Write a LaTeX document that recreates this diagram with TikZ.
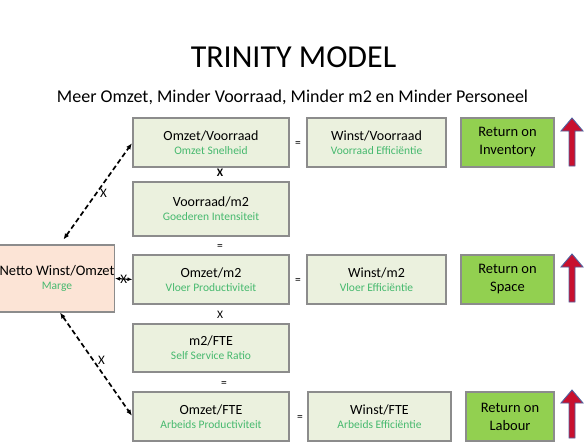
\documentclass[tikz,border=0pt]{standalone}
\usepackage{fontspec}
\setmainfont{Carlito}
\usetikzlibrary{arrows.meta}
\definecolor{boxfill}{RGB}{235,241,222}
\definecolor{nettofill}{RGB}{252,228,214}
\definecolor{boxborder}{RGB}{140,140,140}
\definecolor{subgreen}{RGB}{70,185,110}
\definecolor{retgreen}{RGB}{146,208,80}
\definecolor{arrowred}{RGB}{200,16,46}
\definecolor{arrowblue}{RGB}{79,98,160}
\newcommand\subt[1]{\\{\fontsize{11.5}{14}\selectfont\color{subgreen}#1}}
\tikzset{
  box/.style={draw=boxborder, line width=1.1pt, fill=boxfill, inner sep=0pt,
    align=center, font=\fontsize{14}{14}\selectfont},
  retbox/.style={box, fill=retgreen, font=\fontsize{14.5}{18}\selectfont},
  opsign/.style={inner sep=0pt, font=\fontsize{11.5}{11.5}\selectfont},
  dasharrow/.style={{Latex[length=6pt,width=5pt]}-{Latex[length=6pt,width=5pt]},
    line width=1.7pt, dash pattern=on 5pt off 3pt},
  uparrow/.style={fill=arrowred, draw=arrowblue, line width=0.9pt},
}
\begin{document}
\begin{tikzpicture}[x=1pt,y=-1pt]
\useasboundingbox (0,0) rectangle (588,441);
% title
\node (title) at (293.5,57) {\fontsize{32}{32}\selectfont TRINITY MODEL};
\node (subtitle) at (292.5,97.5) {\fontsize{18}{18}\selectfont Meer Omzet, Minder Voorraad, Minder m2 en Minder Personeel};
% left column
\node[box, minimum width=156pt, minimum height=49pt] (ov) at (211,142.5) {Omzet/Voorraad\subt{Omzet Snelheid}};
\node[box, minimum width=156pt, minimum height=54pt] (vm2) at (211,209) {Voorraad/m2\subt{Goederen Intensiteit}};
\node[box, minimum width=156pt, minimum height=49pt] (om2) at (211,279.5) {Omzet/m2\subt{Vloer Productiviteit}};
\node[box, minimum width=156pt, minimum height=48pt] (mfte) at (211,348) {m2/FTE\subt{Self Service Ratio}};
\node[box, minimum width=156pt, minimum height=49pt] (ofte) at (211,416.5) {Omzet/FTE\subt{Arbeids Productiviteit}};
% netto
\node[box, fill=nettofill, minimum width=112pt, minimum height=67pt, font=\fontsize{14.5}{14}\selectfont] (netto) at (57,278.5) {Netto Winst/Omzet\subt{Marge}};
% middle column
\node[box, minimum width=139pt, minimum height=49pt] (wv) at (376.5,142.5) {Winst/Voorraad\subt{Voorraad Efficiëntie}};
\node[box, minimum width=139pt, minimum height=49pt] (wm2) at (376.5,279.5) {Winst/m2\subt{Vloer Efficiëntie}};
\node[box, minimum width=143pt, minimum height=49pt] (wfte) at (379.5,416.5) {Winst/FTE\subt{Arbeids Efficiëntie}};
% return boxes
\node[retbox, minimum width=93pt, minimum height=49pt] (ri) at (507.5,142.5) {Return on\\Inventory};
\node[retbox, minimum width=93pt, minimum height=49pt] (rs) at (507.5,279.5) {Return on\\Space};
\node[retbox, minimum width=88pt, minimum height=49pt] (rl) at (510,416.5) {Return on\\Labour};
% operators
\node[opsign] (eq1) at (298,144) {=};
\node[opsign] (eq2) at (298,281) {=};
\node[opsign] (eq3) at (300,418) {=};
\node[opsign, font=\fontsize{11.5}{11.5}\bfseries] (x1) at (220,173) {X};
\node[opsign] (eq4) at (220,247) {=};
\node[opsign] (x2) at (220,315) {X};
\node[opsign] (eq5) at (224,384) {=};
% dashed connectors
\draw[dasharrow, shorten <=6pt, shorten >=1pt] ([xshift=3pt]netto.north) -- (ov.west)
  node[pos=0.5, right=3pt, inner sep=0pt, font=\fontsize{13}{13}\selectfont] (lx1) {X};
\draw[dasharrow, shorten <=0pt, shorten >=1pt] ([xshift=3pt]netto.south) -- (ofte.west)
  node[pos=0.46, right=4pt, inner sep=0pt, font=\fontsize{13}{13}\selectfont] (lx2) {X};
\draw[{Latex[length=5pt,width=4pt]}-{Latex[length=5pt,width=4pt]}, line width=1.2pt] (netto.east) -- (om2.west)
  node[midway, inner sep=0pt, font=\fontsize{13}{13}\selectfont] (lx3) {X};
% up arrows
\foreach \y in {118,254,390}{
  \draw[uparrow] (569,\y+48) -- (569,\y+13) -- (561,\y+13) -- (572,\y) -- (583,\y+13) -- (575,\y+13) -- (575,\y+48) -- cycle;
}
\end{tikzpicture}
\end{document}
